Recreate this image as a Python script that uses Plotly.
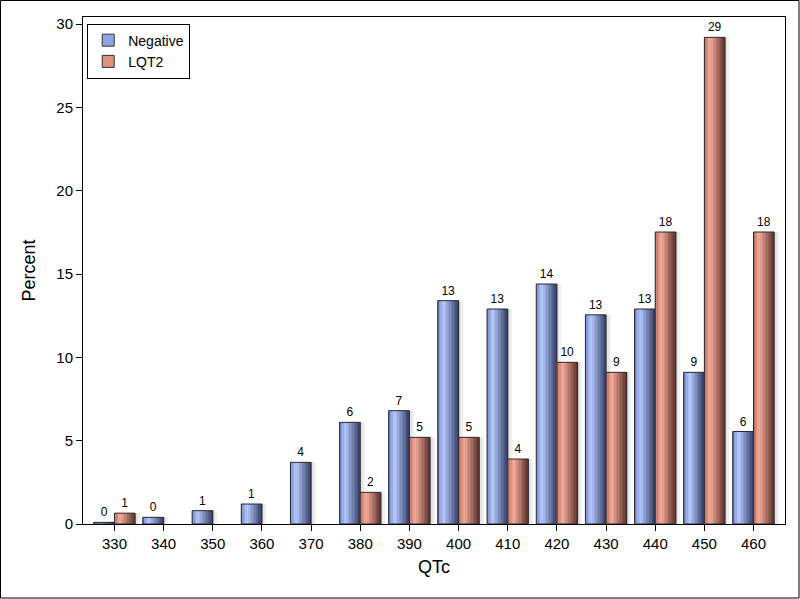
import plotly.graph_objects as go

categories = ["330", "340", "350", "360", "370", "380", "390", "400", "410", "420", "430", "440", "450", "460"]
negative = [0.1, 0.4, 0.8, 1.2, 3.7, 6.1, 6.8, 13.4, 12.9, 14.4, 12.55, 12.9, 9.1, 5.55]
lqt2 = [0.65, None, None, None, None, 1.9, 5.2, 5.2, 3.9, 9.7, 9.1, 17.52, 29.2, 17.52]

BW = 0.42
NSTRIP = 14

def grad(t, left, peak, dark, tp=0.3):
    if t <= tp:
        a, b, f = left, peak, t / tp
    else:
        a, b, f = peak, dark, (t - tp) / (1 - tp)
    c = [round(a[k] + (b[k] - a[k]) * f) for k in range(3)]
    return "rgb(%d,%d,%d)" % tuple(c)

def labels(vals):
    return ["" if v is None else "%.0f" % v for v in vals]

series = [
    ("Negative", negative, -BW, (112, 130, 196), (182, 202, 255), (52, 62, 102), "#8fa3e6"),
    ("LQT2", lqt2, 0.0, (178, 108, 94), (246, 172, 154), (92, 50, 44), "#e0907e"),
]

fig = go.Figure()

# soft shadows
for name, vals, off, l, p, d, mid in series:
    for j, col in enumerate(["#d4d4d4", "#e4e4e4", "#f0f0f0"]):
        fig.add_trace(go.Bar(x=categories, y=vals, width=0.03, offset=off + BW + j * 0.03,
                             marker=dict(color=col, line=dict(width=0)),
                             showlegend=False, hoverinfo="skip"))

for name, vals, off, l, p, d, mid in series:
    for i in range(NSTRIP):
        t = (i + 0.5) / NSTRIP
        fig.add_trace(go.Bar(x=categories, y=vals, width=BW / NSTRIP * 1.02,
                             offset=off + i * BW / NSTRIP,
                             marker=dict(color=grad(t, l, p, d), line=dict(width=0)),
                             showlegend=False, hoverinfo="skip"))
    fig.add_trace(go.Bar(x=categories, y=vals, width=BW, offset=off,
                         marker=dict(color="rgba(0,0,0,0)", line=dict(color="#2a2a2a", width=1)),
                         text=labels(vals), textposition="outside",
                         textfont=dict(size=12, color="#000000", family="Liberation Sans, Arial"),
                         outsidetextfont=dict(size=12, color="#000000", family="Liberation Sans, Arial"),
                         showlegend=False, name=name))

for name, vals, off, l, p, d, mid in series:
    fig.add_trace(go.Bar(x=[categories[0]], y=[None], name=name,
                         marker=dict(color=mid, line=dict(color="#333", width=1))))

W, H = 800, 599
ml, mr, mt, mb = 83, 15, 17, 75
pw, ph = W - ml - mr, H - mt - mb

fig.update_layout(
    width=W, height=H,
    margin=dict(l=ml, r=mr, t=mt, b=mb),
    barmode="overlay",
    plot_bgcolor="white", paper_bgcolor="white",
    font=dict(family="Liberation Sans, Arial", size=15, color="black"),
    showlegend=True,
    legend=dict(x=0.006, y=0.987, xanchor="left", yanchor="top",
                bordercolor="black", borderwidth=1, bgcolor="white",
                font=dict(size=14), tracegroupgap=0, itemwidth=30),
    xaxis=dict(type="category", range=[-0.64, 13.64], title=dict(text="QTc", standoff=9),
               showline=True, linecolor="black", linewidth=1, mirror=True,
               ticks="outside", ticklen=6, tickcolor="black", showgrid=False),
    yaxis=dict(range=[0, 30.42], title=dict(text="Percent", standoff=16),
               tickvals=[0, 5, 10, 15, 20, 25, 30],
               showline=True, linecolor="black", linewidth=1, mirror=True,
               ticks="outside", ticklen=6, tickcolor="black", showgrid=False, zeroline=False),
    shapes=[dict(type="rect", xref="paper", yref="paper",
                 x0=(-ml + 0.5) / pw, x1=(W - ml - 1) / pw,
                 y0=(-mb + 1) / ph, y1=(H - mb - 0.5) / ph,
                 line=dict(color="black", width=1), fillcolor="rgba(0,0,0,0)", layer="above")],
)

fig.write_html("out.html", post_script="document.body.style.margin='0';",
               config={"displayModeBar": False})
